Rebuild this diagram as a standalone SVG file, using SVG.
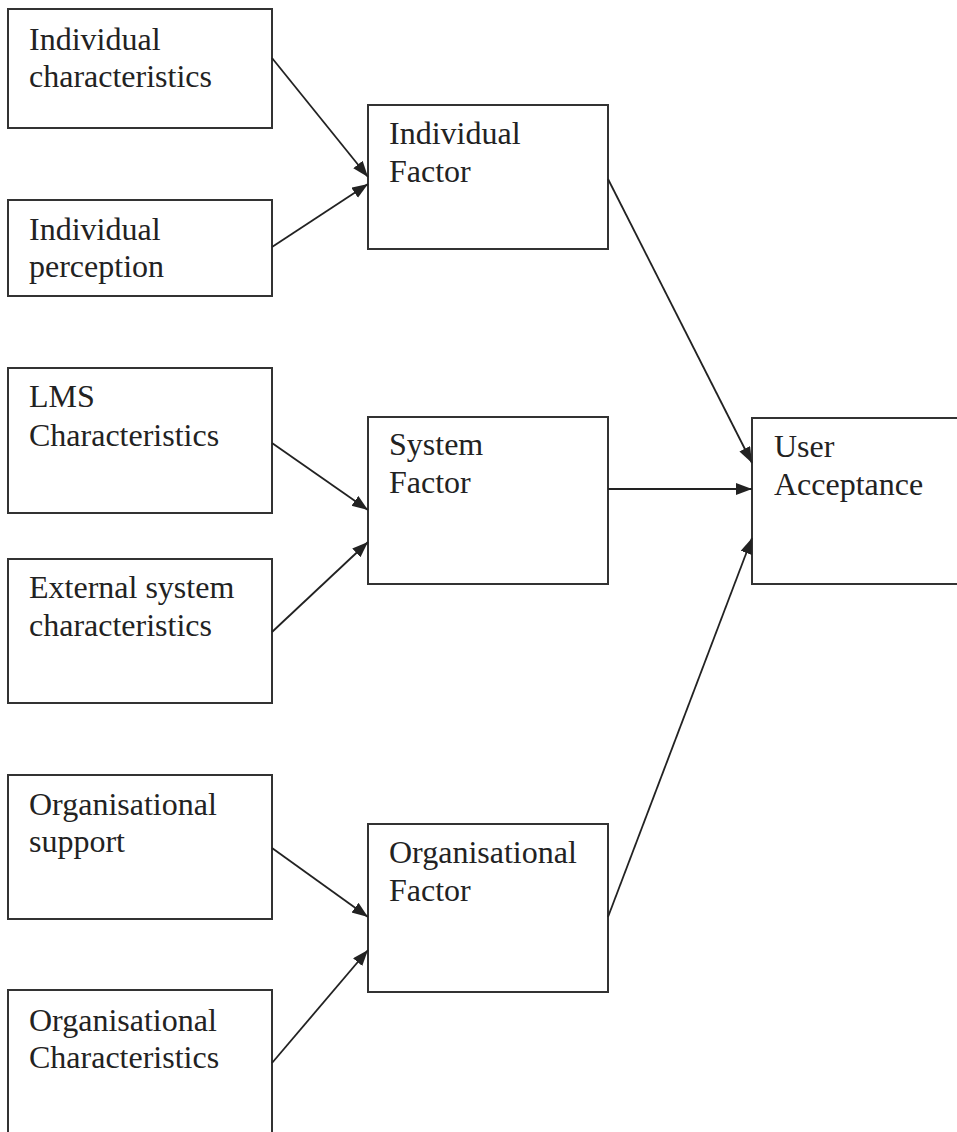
<svg xmlns="http://www.w3.org/2000/svg" width="957" height="1132" viewBox="0 0 957 1132">
<style>
.box{fill:#fff;stroke:#333;stroke-width:2}
.t{font-family:"Liberation Serif","Times New Roman","DejaVu Serif",serif;font-size:32px;fill:#222}
.c{stroke:#222;stroke-width:1.8;fill:none}
</style>
<defs>
<marker id="ah" markerUnits="userSpaceOnUse" markerWidth="18" markerHeight="14" refX="16" refY="6" orient="auto">
<path d="M0,0 L16,6 L0,12 z" fill="#222"/>
</marker>
</defs>
<rect width="957" height="1132" fill="#fff"/>
<g id="n-ind-char"><rect class="box" x="8" y="9" width="264" height="119"/><text class="t" x="29" y="50">Individual</text><text class="t" x="29" y="87">characteristics</text></g>
<g id="n-ind-perc"><rect class="box" x="8" y="200" width="264" height="96"/><text class="t" x="29" y="240">Individual</text><text class="t" x="29" y="277">perception</text></g>
<g id="n-lms"><rect class="box" x="8" y="368" width="264" height="145"/><text class="t" x="29" y="407">LMS</text><text class="t" x="29" y="446">Characteristics</text></g>
<g id="n-ext"><rect class="box" x="8" y="559" width="264" height="144"/><text class="t" x="29" y="598">External system</text><text class="t" x="29" y="636">characteristics</text></g>
<g id="n-org-sup"><rect class="box" x="8" y="775" width="264" height="144"/><text class="t" x="29" y="815">Organisational</text><text class="t" x="29" y="852">support</text></g>
<g id="n-org-char"><rect class="box" x="8" y="990" width="264" height="160"/><text class="t" x="29" y="1031">Organisational</text><text class="t" x="29" y="1068">Characteristics</text></g>
<g id="n-ind-fac"><rect class="box" x="368" y="105" width="240" height="144"/><text class="t" x="389" y="144">Individual</text><text class="t" x="389" y="182">Factor</text></g>
<g id="n-sys-fac"><rect class="box" x="368" y="417" width="240" height="167"/><text class="t" x="389" y="455">System</text><text class="t" x="389" y="493">Factor</text></g>
<g id="n-org-fac"><rect class="box" x="368" y="824" width="240" height="168"/><text class="t" x="389" y="863">Organisational</text><text class="t" x="389" y="901">Factor</text></g>
<g id="n-user"><rect class="box" x="752" y="418" width="215" height="166"/><text class="t" x="774" y="457">User</text><text class="t" x="774" y="495">Acceptance</text></g>
<g id="connectors">
<line class="c" x1="272" y1="58" x2="368" y2="177" marker-end="url(#ah)"/>
<line class="c" x1="272" y1="247" x2="368" y2="184" marker-end="url(#ah)"/>
<line class="c" x1="272" y1="443" x2="368" y2="510" marker-end="url(#ah)"/>
<line class="c" x1="272" y1="632" x2="368" y2="542" marker-end="url(#ah)"/>
<line class="c" x1="272" y1="848" x2="368" y2="917" marker-end="url(#ah)"/>
<line class="c" x1="272" y1="1063" x2="368" y2="950" marker-end="url(#ah)"/>
<line class="c" x1="608" y1="179" x2="752" y2="463" marker-end="url(#ah)"/>
<line class="c" x1="608" y1="489" x2="752" y2="489" marker-end="url(#ah)"/>
<line class="c" x1="608" y1="917" x2="752" y2="538" marker-end="url(#ah)"/>
</g>
</svg>
